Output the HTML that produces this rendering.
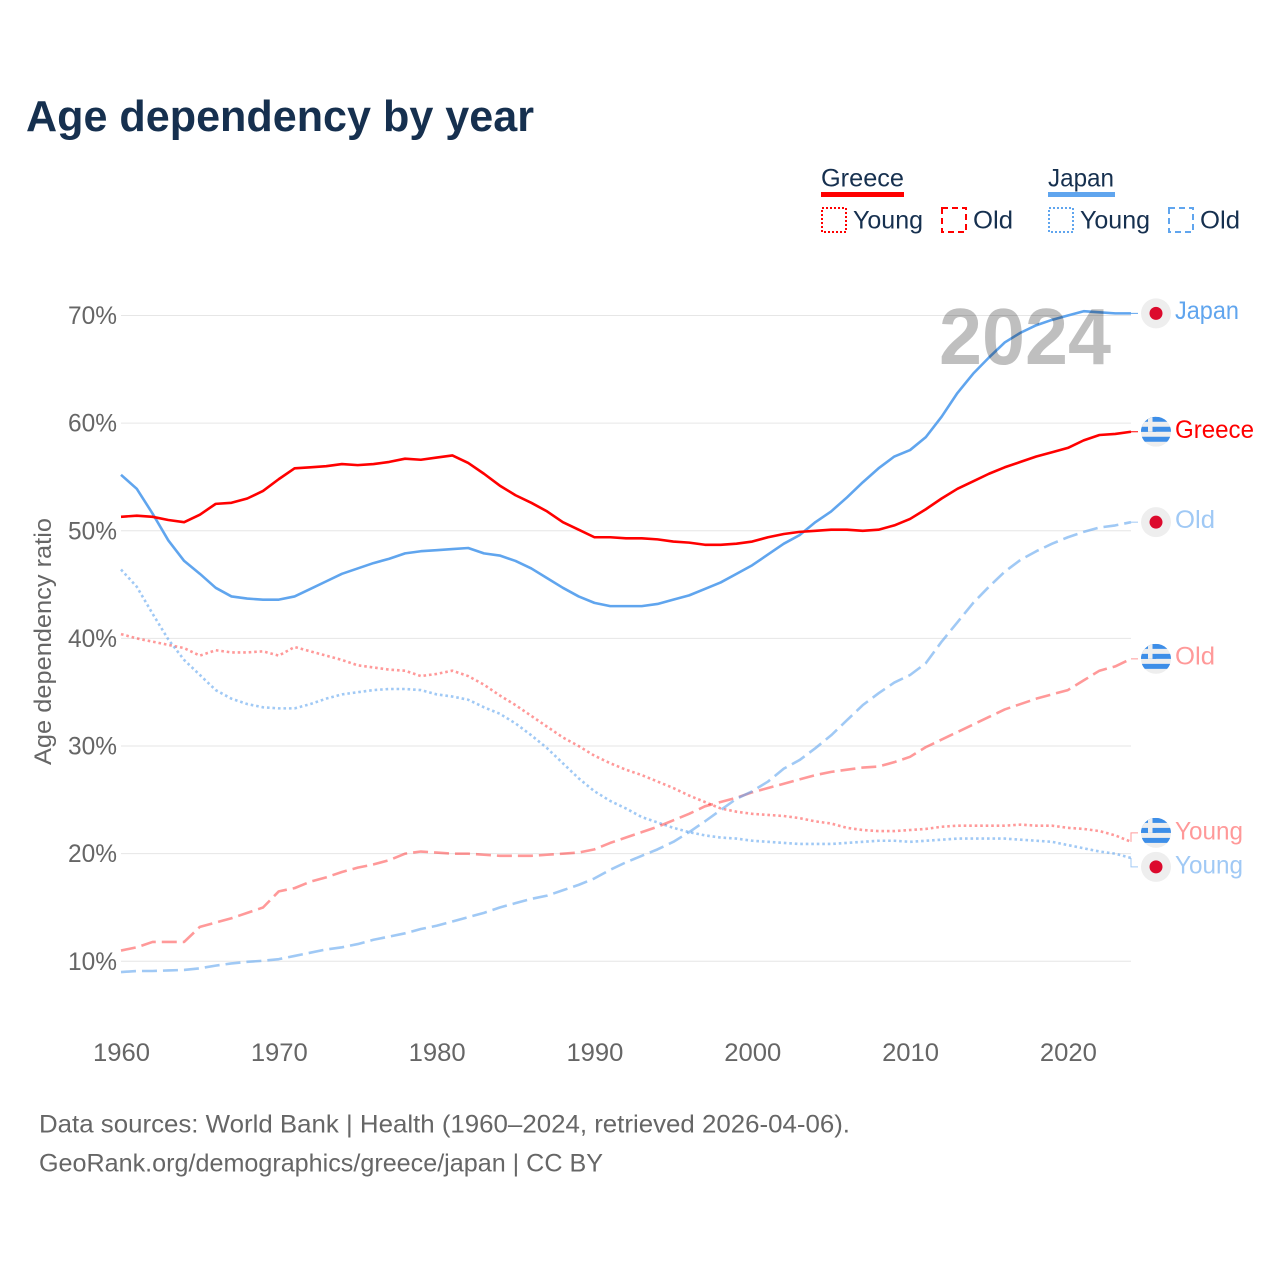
<!DOCTYPE html>
<html lang="en">
<head>
<meta charset="utf-8">
<title>Age dependency by year</title>
<style>
  html, body { margin: 0; padding: 0; background: #fff; }
  svg { display: block; font-family: "Liberation Sans", sans-serif; }
</style>
</head>
<body>
<svg id="chart" xmlns="http://www.w3.org/2000/svg" width="1280" height="1280" viewBox="0 0 1280 1280">
  <defs><clipPath id="flag-clip"><circle cx="0" cy="0" r="15"></circle></clipPath></defs>
  <rect x="0" y="0" width="1280" height="1280" fill="#ffffff"></rect>

  <text x="26" y="131" font-size="44" font-weight="700" fill="#16304f" textLength="508" lengthAdjust="spacingAndGlyphs">Age dependency by year</text>

  <g font-size="25" fill="#16304f">
    <text x="821" y="186.5" textLength="83" lengthAdjust="spacingAndGlyphs">Greece</text>
    <rect x="821" y="192" width="83" height="5" fill="#ff0000"></rect>
    <rect x="822" y="208" width="24" height="24" fill="none" stroke="#ff0000" stroke-width="2" stroke-dasharray="2 2"></rect>
    <text x="853" y="228.5" textLength="70" lengthAdjust="spacingAndGlyphs">Young</text>
    <rect x="942" y="208" width="24" height="24" fill="none" stroke="#ff0000" stroke-width="2" stroke-dasharray="6 4"></rect>
    <text x="973" y="228.5" textLength="40" lengthAdjust="spacingAndGlyphs">Old</text>

    <text x="1048" y="186.5" textLength="66" lengthAdjust="spacingAndGlyphs">Japan</text>
    <rect x="1048" y="192" width="67" height="5" fill="#60a5ee"></rect>
    <rect x="1049" y="208" width="24" height="24" fill="none" stroke="#60a5ee" stroke-width="2" stroke-dasharray="2 2"></rect>
    <text x="1080" y="228.5" textLength="70" lengthAdjust="spacingAndGlyphs">Young</text>
    <rect x="1169" y="208" width="24" height="24" fill="none" stroke="#60a5ee" stroke-width="2" stroke-dasharray="6 4"></rect>
    <text x="1200" y="228.5" textLength="40" lengthAdjust="spacingAndGlyphs">Old</text>
  </g>

  <g id="grid"></g>
  <g id="y-ticks"></g>
  <g id="x-ticks"></g>

  <text transform="translate(51,765) rotate(-90)" font-size="24" fill="#666666" textLength="247" lengthAdjust="spacingAndGlyphs">Age dependency ratio</text>

  <g id="series"></g>

  <text x="939" y="364" font-size="80" font-weight="700" fill="#000000" fill-opacity="0.25" textLength="172" lengthAdjust="spacingAndGlyphs">2024</text>

  <g id="end-markers"></g>

  <g font-size="25" fill="#666666">
    <text x="39" y="1132.5" textLength="811" lengthAdjust="spacingAndGlyphs">Data sources: World Bank | Health (1960–2024, retrieved 2026-04-06).</text>
    <text x="39" y="1171.5" textLength="564" lengthAdjust="spacingAndGlyphs">GeoRank.org/demographics/greece/japan | CC BY</text>
  </g>
</svg>

<script>
const firstYear = 1960;
const lastYear = 2024;
const yTickValues = [10, 20, 30, 40, 50, 60, 70];
const xTickValues = [1960, 1970, 1980, 1990, 2000, 2010, 2020];

const greeceTotal = [51.3,51.4,51.3,51.0,50.8,51.5,52.5,52.6,53.0,53.7,54.8,55.8,55.9,56.0,56.2,56.1,56.2,56.4,56.7,56.6,56.8,57.0,56.3,55.3,54.2,53.3,52.6,51.8,50.8,50.1,49.4,49.4,49.3,49.3,49.2,49.0,48.9,48.7,48.7,48.8,49.0,49.4,49.7,49.9,50.0,50.1,50.1,50.0,50.1,50.5,51.1,52.0,53.0,53.9,54.6,55.3,55.9,56.4,56.9,57.3,57.7,58.4,58.9,59.0,59.2];
const japanTotal = [55.2,53.9,51.6,49.1,47.2,46.0,44.7,43.9,43.7,43.6,43.6,43.9,44.6,45.3,46.0,46.5,47.0,47.4,47.9,48.1,48.2,48.3,48.4,47.9,47.7,47.2,46.5,45.6,44.7,43.9,43.3,43.0,43.0,43.0,43.2,43.6,44.0,44.6,45.2,46.0,46.8,47.8,48.8,49.6,50.8,51.8,53.1,54.5,55.8,56.9,57.5,58.7,60.6,62.8,64.6,66.1,67.5,68.4,69.1,69.6,70.0,70.4,70.3,70.2,70.2];
const greeceYoung = [40.4,40.0,39.7,39.4,39.1,38.4,38.9,38.7,38.7,38.8,38.4,39.2,38.8,38.4,38.0,37.5,37.3,37.1,37.0,36.5,36.7,37.0,36.5,35.7,34.7,33.8,32.8,31.8,30.8,30.0,29.1,28.4,27.8,27.3,26.7,26.1,25.4,24.8,24.2,23.9,23.7,23.6,23.5,23.3,23.0,22.8,22.4,22.2,22.1,22.1,22.2,22.3,22.5,22.6,22.6,22.6,22.6,22.7,22.6,22.6,22.4,22.3,22.1,21.7,21.1];
const greeceOld = [11.0,11.3,11.8,11.8,11.8,13.2,13.6,14.0,14.5,15.0,16.5,16.8,17.4,17.8,18.3,18.7,19.0,19.4,20.0,20.2,20.1,20.0,20.0,19.9,19.8,19.8,19.8,19.9,20.0,20.1,20.4,21.0,21.5,22.0,22.5,23.1,23.7,24.4,24.8,25.2,25.7,26.1,26.5,26.9,27.3,27.6,27.8,28.0,28.1,28.5,29.0,29.9,30.6,31.3,32.0,32.7,33.4,33.9,34.4,34.8,35.2,36.1,37.0,37.4,38.1];
const japanYoung = [46.4,44.8,42.3,39.9,38.0,36.6,35.2,34.4,33.9,33.6,33.5,33.5,33.9,34.4,34.8,35.0,35.2,35.3,35.3,35.2,34.8,34.6,34.3,33.6,33.0,32.1,31.0,29.8,28.4,27.0,25.8,24.9,24.2,23.4,22.9,22.4,22.0,21.7,21.5,21.4,21.2,21.1,21.0,20.9,20.9,20.9,21.0,21.1,21.2,21.2,21.1,21.2,21.3,21.4,21.4,21.4,21.4,21.3,21.2,21.1,20.8,20.5,20.2,20.0,19.6];
const japanOld = [9.0,9.1,9.1,9.15,9.2,9.35,9.6,9.8,9.95,10.05,10.2,10.5,10.8,11.1,11.3,11.6,12.0,12.3,12.6,13.0,13.3,13.7,14.1,14.5,15.0,15.4,15.8,16.1,16.6,17.1,17.7,18.5,19.2,19.8,20.4,21.1,22.0,23.0,24.05,25.1,25.8,26.7,27.9,28.7,29.8,31.0,32.4,33.8,34.9,35.9,36.6,37.7,39.7,41.5,43.3,44.8,46.2,47.3,48.1,48.8,49.4,49.9,50.3,50.5,50.8];

const RED = '#ff0000';
const BLUE = '#60a5ee';
const NS = 'http://www.w3.org/2000/svg';
const plotLeft = 121, plotRight = 1131;

function xScale(year) {
  return plotLeft + (year - firstYear) * (plotRight - plotLeft) / (lastYear - firstYear);
}
function yScale(pct) {
  return 961.3 - (pct - 10) * 10.763;
}
function make(tag, attrs, parent) {
  const el = document.createElementNS(NS, tag);
  for (const k in attrs) el.setAttribute(k, attrs[k]);
  parent.appendChild(el);
  return el;
}

const gridLayer = document.getElementById('grid');
const yTickLayer = document.getElementById('y-ticks');
const xTickLayer = document.getElementById('x-ticks');
const seriesLayer = document.getElementById('series');
const endLayer = document.getElementById('end-markers');

yTickValues.forEach(function (v) {
  const line = make('line', { x1: plotLeft, x2: plotRight, y1: yScale(v), y2: yScale(v), stroke: '#e6e6e6', 'stroke-width': 1 }, gridLayer);
  
  
  const label = make('text', { x: 117, y: yScale(v) + 8.5, 'text-anchor': 'end', 'font-size': 25, fill: '#666666', textLength: 49, lengthAdjust: 'spacingAndGlyphs' }, yTickLayer);
  
  
  label.textContent = v + '%';
});

xTickValues.forEach(function (v) {
  const label = make('text', { x: xScale(v) - 28, y: 1061, 'font-size': 25, fill: '#666666', textLength: 57, lengthAdjust: 'spacingAndGlyphs' }, xTickLayer);
  
  
  label.textContent = v;
});

function drawSeries(values, color, opacity, dash, name) {
  const d = values.map(function (v, i) {
    return (i ? 'L' : 'M') + xScale(firstYear + i).toFixed(2) + ',' + yScale(v).toFixed(2);
  }).join('');
  const path = make('path', { d: d, fill: 'none', stroke: color, 'stroke-opacity': opacity, 'stroke-width': 2.6, 'stroke-linejoin': 'round' }, seriesLayer);
  if (dash) path.setAttribute('stroke-dasharray', dash);
  
  
}

const DOTTED = '2.6 2.9';
const DASHED = '15 6';
drawSeries(greeceYoung, RED, 0.4, DOTTED, 'line-greece-young');
drawSeries(japanYoung, BLUE, 0.6, DOTTED, 'line-japan-young');
drawSeries(greeceOld, RED, 0.4, DASHED, 'line-greece-old');
drawSeries(japanOld, BLUE, 0.6, DASHED, 'line-japan-old');
drawSeries(japanTotal, BLUE, 1, '', 'line-japan-total');
drawSeries(greeceTotal, RED, 1, '', 'line-greece-total');

const endEntries = [
  { text: 'Japan', country: 'japan', color: BLUE, opacity: 1, last: japanTotal[japanTotal.length - 1], width: 64, dy: 5.5 },
  { text: 'Greece', country: 'greece', color: RED, opacity: 1, last: greeceTotal[greeceTotal.length - 1], width: 79, dy: 6 },
  { text: 'Old', country: 'japan', color: BLUE, opacity: 0.6, last: japanOld[japanOld.length - 1], width: 40, dy: 6 },
  { text: 'Old', country: 'greece', color: RED, opacity: 0.4, last: greeceOld[greeceOld.length - 1], width: 40, dy: 5.5 },
  { text: 'Young', country: 'greece', color: RED, opacity: 0.4, last: greeceYoung[greeceYoung.length - 1], width: 68, dy: 6.5 },
  { text: 'Young', country: 'japan', color: BLUE, opacity: 0.6, last: japanYoung[japanYoung.length - 1], width: 68, dy: 6.5 }
];

/* spread flag markers apart so they do not collide */
endEntries.forEach(function (e) { e.lineY = yScale(e.last); e.markY = e.lineY; });
endEntries.sort(function (a, b) { return a.lineY - b.lineY; });
for (let i = 1; i < endEntries.length; i++) {
  const a = endEntries[i - 1], b = endEntries[i];
  if (b.markY - a.markY < 34) {
    const mid = (a.markY + b.markY) / 2;
    a.markY = mid - 17;
    b.markY = mid + 17;
  }
}

function drawFlag(country, cy) {
  const g = make('g', { transform: 'translate(1156,' + cy + ')' }, endLayer);
  
  
  if (country === 'japan') {
    make('circle', { cx: 0, cy: 0, r: 15, fill: '#eeeeee' }, g);
    make('circle', { cx: 0, cy: 0, r: 6.5, fill: '#dc0a2d' }, g);
    return;
  }
  const clip = make('g', { 'clip-path': 'url(#flag-clip)' }, g);
  make('rect', { x: -15, y: -15, width: 30, height: 30, fill: '#eeeeee' }, clip);
  for (let s = 0; s < 6; s += 2) {
    make('rect', { x: -15, y: -15 + s * 5, width: 30, height: 5, fill: '#3d8ee8' }, clip);
  }
  make('rect', { x: -15, y: -15, width: 15, height: 15, fill: '#3d8ee8' }, clip);
  make('rect', { x: -8, y: -15, width: 4.5, height: 15, fill: '#eeeeee' }, clip);
  make('rect', { x: -15, y: -10, width: 15, height: 5, fill: '#eeeeee' }, clip);
}

endEntries.forEach(function (e) {
  const d = 'M' + plotRight + ',' + e.lineY.toFixed(2) + 'V' + e.markY.toFixed(2) + 'H1138';
  const conn = make('path', { d: d, fill: 'none', stroke: e.color, 'stroke-opacity': e.opacity, 'stroke-width': 1 }, endLayer);
  
  
  drawFlag(e.country, e.markY);
  const label = make('text', { x: 1175, y: e.markY + e.dy, 'font-size': 25, fill: e.color, 'fill-opacity': e.opacity, textLength: e.width, lengthAdjust: 'spacingAndGlyphs' }, endLayer);
  
  
  label.textContent = e.text;
});
</script>
</body>
</html>
